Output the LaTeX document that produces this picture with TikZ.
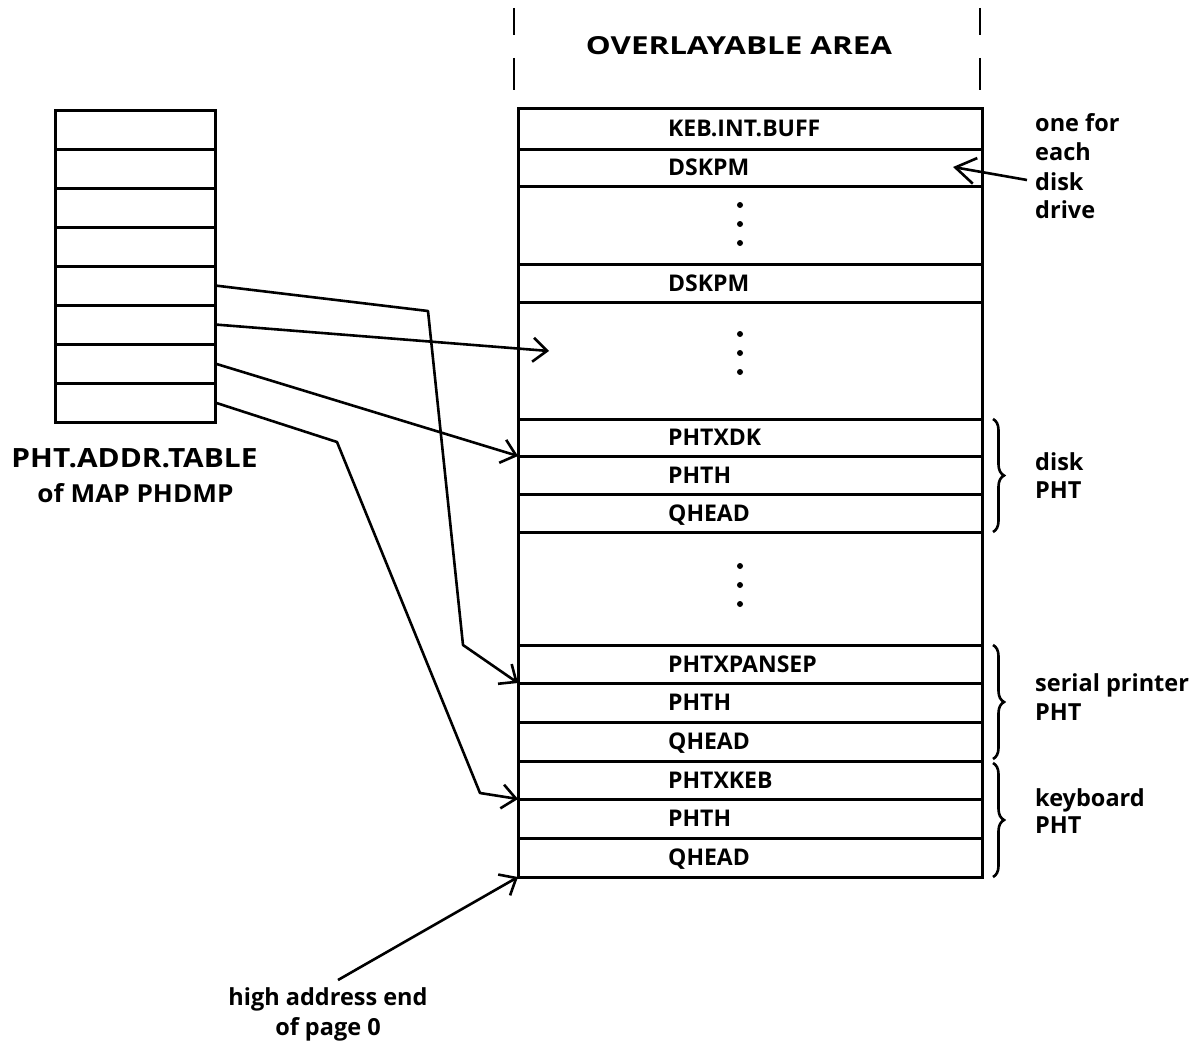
\documentclass[tikz,border=0pt]{standalone}
\usepackage{fontspec}
\usepackage{graphicx}
\setmainfont{Open Sans}
\usetikzlibrary{arrows.meta,decorations.pathreplacing}
\begin{document}
\begin{tikzpicture}[x=1pt,y=-1pt,
  box/.style={draw,line width=3pt,inner sep=0pt,outer sep=0pt,minimum width=160pt,minimum height=39pt,anchor=north west},
  row/.style={draw,line width=3pt,inner sep=0pt,outer sep=0pt,minimum width=464pt,anchor=north west},
  rowtext/.style={anchor=base west,inner sep=0pt,font=\fontsize{23}{24}\selectfont\bfseries},
  side/.style={anchor=base west,inner sep=0pt,font=\fontsize{23.5}{29}\selectfont\bfseries},
  bot/.style={anchor=base,inner sep=0pt,font=\fontsize{23.5}{29}\selectfont\bfseries},
  conn/.style={line width=2.6pt,line join=round},
  tip/.style={-{Straight Barb[length=14pt,width=24pt,line width=2.6pt]}},
  dot/.style={circle,fill,inner sep=0pt,minimum size=6pt},
  brc/.style={line width=2.6pt,decorate,decoration={brace,amplitude=11pt}}]
\useasboundingbox (0,0) rectangle (1200,1049);
% dashed guides
\draw[line width=2.6pt] (514,8) -- (514,35) (514,58) -- (514,90);
\draw[line width=2.6pt] (980,8) -- (980,35) (980,58) -- (980,90);
\node[anchor=base,inner sep=0pt] (title) at (739,55) {\resizebox{306pt}{18pt}{\bfseries OVERLAYABLE AREA}};
% left table
\foreach \i in {1,...,8} {
  \node[box] (t\i) at (55,{110+39*(\i-1)}) {};
}
\node[anchor=base,inner sep=0pt] (tlab1) at (134.5,467) {\resizebox{246pt}{19pt}{\bfseries PHT.ADDR.TABLE}};
\node[anchor=base,inner sep=0pt] (tlab2) at (135.5,502) {\resizebox{196pt}{19pt}{\bfseries of MAP PHDMP}};
% main column
\node[row,minimum height=41pt] (kib) at (518,108) {};
\node[row,minimum height=37pt] (dsk1) at (518,149) {};
\node[row,minimum height=78pt] (gap1) at (518,186) {};
\node[row,minimum height=38pt] (dsk2) at (518,264) {};
\node[row,minimum height=117pt] (gap2) at (518,302) {};
\node[row,minimum height=37pt] (dkx) at (518,419) {};
\node[row,minimum height=38pt] (dkh) at (518,456) {};
\node[row,minimum height=38pt] (dkq) at (518,494) {};
\node[row,minimum height=113pt] (gap3) at (518,532) {};
\node[row,minimum height=38pt] (spx) at (518,645) {};
\node[row,minimum height=39pt] (sph) at (518,683) {};
\node[row,minimum height=39pt] (spq) at (518,722) {};
\node[row,minimum height=38pt] (kbx) at (518,761) {};
\node[row,minimum height=39pt] (kbh) at (518,799) {};
\node[row,minimum height=39pt] (kbq) at (518,838) {};
\node[rowtext] (l1) at (668,136.5) {KEB.INT.BUFF};
\node[rowtext] (l2) at (668,175.5) {DSKPM};
\node[rowtext] (l3) at (668,291) {DSKPM};
\node[rowtext] (l4) at (668,445.5) {PHTXDK};
\node[rowtext] (l5) at (668,483) {PHTH};
\node[rowtext] (l6) at (668,521) {QHEAD};
\node[rowtext] (l7) at (668,672) {PHTXPANSEP};
\node[rowtext] (l8) at (668,710.5) {PHTH};
\node[rowtext] (l9) at (668,749.5) {QHEAD};
\node[rowtext] (l10) at (668,788) {PHTXKEB};
\node[rowtext] (l11) at (668,826.5) {PHTH};
\node[rowtext] (l12) at (668,865.5) {QHEAD};
% dots
\foreach \y in {205,224,243,334,353,372,566,585,604} \node[dot] at (740,\y) {};
% braces
\draw[brc] (993,419) -- (993,532);
\draw[brc] (993,645) -- (993,759);
\draw[brc] (993,763) -- (993,877);
% side labels
\node[side] (e1) at (1035,131) {one for};
\node[side] (e2) at (1035,160) {each};
\node[side] (e3) at (1035,190) {disk};
\node[side] (e4) at (1035,218) {drive};
\node[side] (d1) at (1035,470) {disk};
\node[side] (d2) at (1035,498) {PHT};
\node[side] (s1) at (1035,691) {serial printer};
\node[side] (s2) at (1035,720) {PHT};
\node[side] (k1) at (1035,806) {keyboard};
\node[side] (k2) at (1035,833) {PHT};
\coordinate (eachfrom) at (1027,180);
\coordinate (eachto) at (953,167);
\draw[conn,-{Straight Barb[length=20pt,width=26pt,line width=2.6pt]}] (eachfrom) -- (eachto);
% connectors
\draw[conn,tip] (t5.east) -- (428,311) -- (463,645) -- (spx.south west);
\coordinate (mid2) at (549,351);
\draw[conn,tip] (t6.east) -- (mid2);
\draw[conn,tip] (t7.east) -- (dkx.south west);
\draw[conn,tip] (t8.east) -- (337,442) -- (480,793) -- (kbx.south west);
\node[bot] (h1) at (328,1005) {high address end};
\node[bot] (h2) at (328,1035) {of page 0};
\coordinate (hfrom) at (338,980);
\draw[conn,tip] (hfrom) -- (kbq.south west);
\end{tikzpicture}
\end{document}
